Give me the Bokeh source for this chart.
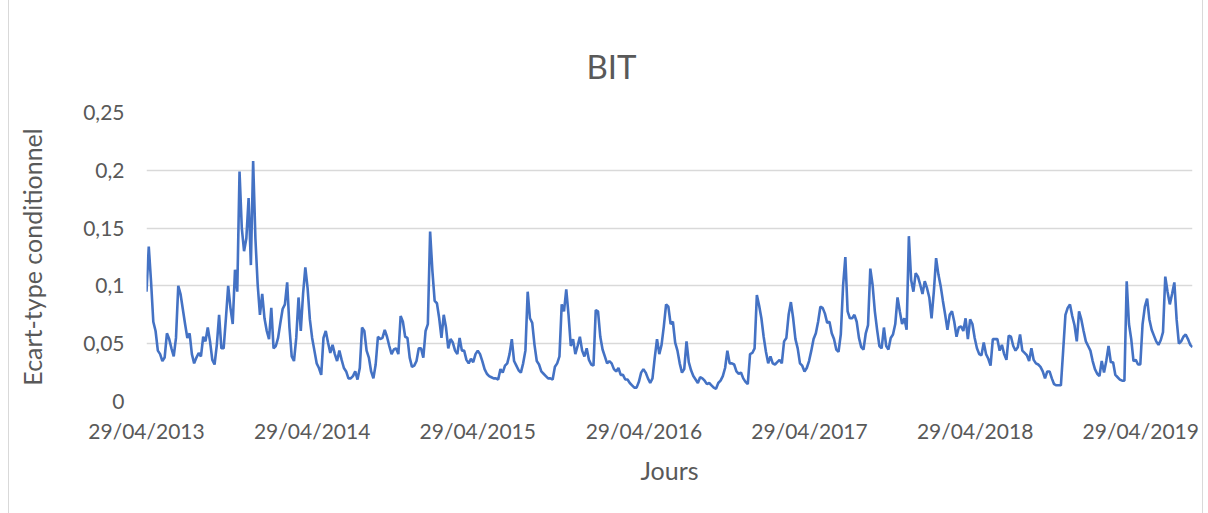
import pandas as pd
from bokeh.plotting import figure
from bokeh.models import Range1d, FixedTicker, CustomJSTickFormatter, DatetimeTickFormatter
from bokeh.embed import file_html
from bokeh.resources import INLINE

# ---- data (conditional std. dev., sampled every 5 days from 29/04/2013) ----
start_date = "2013-04-29"
step = "5D"

vol_part1 = [0.095, 0.134, 0.104, 0.069, 0.061, 0.044, 0.041, 0.035, 0.038, 0.059,
             0.054, 0.046, 0.039, 0.055, 0.100, 0.093, 0.080, 0.067, 0.055, 0.059,
             0.041, 0.033, 0.038, 0.042, 0.039, 0.056, 0.052, 0.064, 0.052, 0.036,
             0.032, 0.049, 0.075, 0.046, 0.046, 0.072, 0.100, 0.081, 0.067, 0.114,
             0.095, 0.199, 0.150, 0.130, 0.141, 0.176, 0.118, 0.208, 0.141, 0.101,
             0.075, 0.093, 0.072, 0.061, 0.054, 0.081, 0.046, 0.048]
vol_part2 = [0.055, 0.068, 0.080, 0.084, 0.103, 0.064, 0.039, 0.035, 0.055, 0.090,
             0.061, 0.093, 0.116, 0.098, 0.071, 0.055, 0.044, 0.033, 0.029, 0.023,
             0.055, 0.061, 0.051, 0.042, 0.049, 0.041, 0.035, 0.044, 0.036, 0.029,
             0.026, 0.020, 0.020, 0.022, 0.026, 0.019, 0.029, 0.064, 0.061, 0.044,
             0.038, 0.026, 0.020, 0.032, 0.056, 0.054, 0.055, 0.062, 0.056, 0.048,
             0.041, 0.045, 0.046, 0.041, 0.074, 0.069, 0.056]
vol_part3 = [0.055, 0.038, 0.030, 0.031, 0.035, 0.046, 0.046, 0.038, 0.061, 0.067,
             0.147, 0.113, 0.087, 0.085, 0.072, 0.055, 0.075, 0.064, 0.046, 0.054,
             0.051, 0.044, 0.041, 0.055, 0.044, 0.044, 0.036, 0.033, 0.037, 0.034,
             0.041, 0.044, 0.041, 0.035, 0.028, 0.024, 0.022, 0.021, 0.020, 0.020,
             0.019, 0.028, 0.025, 0.031, 0.033, 0.041, 0.054, 0.035, 0.031, 0.027,
             0.025, 0.033, 0.044, 0.095, 0.072, 0.068, 0.049, 0.035]
vol_part4 = [0.032, 0.026, 0.024, 0.022, 0.020, 0.020, 0.019, 0.030, 0.033, 0.039,
             0.084, 0.078, 0.097, 0.075, 0.048, 0.054, 0.041, 0.048, 0.056, 0.044,
             0.039, 0.046, 0.036, 0.032, 0.031, 0.079, 0.078, 0.056, 0.045, 0.039,
             0.033, 0.035, 0.033, 0.028, 0.026, 0.029, 0.023, 0.023, 0.019, 0.019,
             0.016, 0.014, 0.012, 0.012, 0.017, 0.025, 0.028, 0.025, 0.020, 0.016,
             0.020, 0.038, 0.054, 0.041, 0.049, 0.065, 0.084, 0.082, 0.067]
vol_part5 = [0.069, 0.051, 0.044, 0.033, 0.025, 0.028, 0.052, 0.034, 0.027, 0.022,
             0.019, 0.016, 0.021, 0.020, 0.018, 0.015, 0.016, 0.014, 0.012, 0.011,
             0.016, 0.018, 0.022, 0.029, 0.044, 0.033, 0.033, 0.032, 0.026, 0.024,
             0.025, 0.020, 0.017, 0.015, 0.041, 0.042, 0.046, 0.092, 0.083, 0.072,
             0.056, 0.043, 0.033, 0.039, 0.033, 0.032, 0.034, 0.036, 0.033, 0.052,
             0.055, 0.075, 0.086, 0.072, 0.054, 0.046, 0.033]
vol_part6 = [0.031, 0.026, 0.029, 0.035, 0.044, 0.054, 0.059, 0.069, 0.082, 0.081,
             0.076, 0.068, 0.069, 0.059, 0.054, 0.045, 0.043, 0.058, 0.100, 0.125,
             0.078, 0.072, 0.072, 0.075, 0.069, 0.055, 0.047, 0.045, 0.059, 0.066,
             0.115, 0.101, 0.078, 0.062, 0.048, 0.046, 0.064, 0.048, 0.045, 0.055,
             0.058, 0.067, 0.090, 0.078, 0.067, 0.072, 0.062, 0.143, 0.105, 0.095,
             0.111, 0.108, 0.101, 0.093, 0.104, 0.098, 0.090]
vol_part7 = [0.072, 0.095, 0.124, 0.110, 0.100, 0.087, 0.075, 0.062, 0.075, 0.078,
             0.069, 0.056, 0.064, 0.065, 0.061, 0.072, 0.054, 0.071, 0.067, 0.055,
             0.046, 0.041, 0.040, 0.051, 0.041, 0.037, 0.031, 0.054, 0.054, 0.054,
             0.044, 0.049, 0.041, 0.036, 0.057, 0.056, 0.048, 0.044, 0.047, 0.058,
             0.044, 0.042, 0.040, 0.035, 0.046, 0.036, 0.033, 0.032, 0.030, 0.026,
             0.020, 0.026, 0.026, 0.020, 0.015, 0.014, 0.014, 0.014]
vol_part8 = [0.044, 0.075, 0.081, 0.084, 0.074, 0.066, 0.052, 0.078, 0.071, 0.061,
             0.052, 0.048, 0.044, 0.035, 0.028, 0.024, 0.022, 0.035, 0.025, 0.035,
             0.048, 0.034, 0.034, 0.023, 0.021, 0.019, 0.018, 0.018, 0.104, 0.067,
             0.054, 0.035, 0.036, 0.032, 0.032, 0.067, 0.082, 0.089, 0.071, 0.062,
             0.057, 0.052, 0.049, 0.053, 0.060, 0.108, 0.095, 0.084, 0.093, 0.103,
             0.071, 0.050, 0.052, 0.056, 0.058, 0.054, 0.049, 0.047]

tick_dates = ["2013-04-29", "2014-04-29", "2015-04-29", "2016-04-29",
              "2017-04-29", "2018-04-29", "2019-04-29"]
tick_labels = ["29/04/2013", "29/04/2014", "29/04/2015", "29/04/2016",
               "29/04/2017", "29/04/2018", "29/04/2019"]
y_ticks = [0, 0.05, 0.1, 0.15, 0.2, 0.25]

title_text = "BIT"
x_label = "Jours"
y_label = "Ecart-type conditionnel"

# ---- build ----
vol = (vol_part1 + vol_part2 + vol_part3 + vol_part4 +
       vol_part5 + vol_part6 + vol_part7 + vol_part8)
dates = pd.date_range(start_date, periods=len(vol), freq=step)

FONT = "Lato"
TXT = "#595959"

p = figure(width=1195, height=513, x_axis_type="datetime",
           output_backend="svg", toolbar_location=None,
           x_range=Range1d(dates[0], dates[-1]), y_range=Range1d(0, 0.25),
           min_border_left=137, min_border_right=12,
           min_border_top=112, min_border_bottom=112)
p.styles = {"margin-left": "8px",
            "border-left": "1px solid #D9D9D9",
            "border-right": "1px solid #D9D9D9"}

p.line(dates, vol, line_color="#4472C4", line_width=2.6)

# title
p.title.text = title_text
p.title.text_font = FONT
p.title.text_font_size = "33px"
p.title.text_font_style = "normal"
p.title.text_color = TXT
p.title.align = "left"
p.title.offset = 440
p.title.standoff = 54

# x axis
tick_ms = [int(pd.Timestamp(d).value // 10**6) for d in tick_dates]
p.xaxis.ticker = FixedTicker(ticks=tick_ms)
p.xaxis.formatter = DatetimeTickFormatter(days="%d/%m/%Y", months="%d/%m/%Y",
                                          years="%d/%m/%Y")
p.xaxis.major_label_overrides = {ms: lab for ms, lab in zip(tick_ms, tick_labels)}
p.xaxis.axis_label = x_label
p.xaxis.major_label_standoff = 10
p.xaxis.axis_label_standoff = 9

# y axis
p.yaxis.ticker = FixedTicker(ticks=y_ticks)
p.yaxis.formatter = CustomJSTickFormatter(
    code="return String(Math.round(tick*100)/100).replace('.', ',');")
p.yaxis.axis_label = y_label
p.yaxis.major_label_standoff = 16
p.yaxis.axis_label_standoff = 33

for ax in (p.xaxis[0], p.yaxis[0]):
    ax.axis_line_color = None
    ax.major_tick_line_color = None
    ax.minor_tick_line_color = None
    ax.major_label_text_font = FONT
    ax.major_label_text_font_size = "21px"
    ax.major_label_text_color = TXT
    ax.axis_label_text_font = FONT
    ax.axis_label_text_font_size = "25px"
    ax.axis_label_text_font_style = "normal"
    ax.axis_label_text_color = TXT

p.xgrid.grid_line_color = None
p.ygrid.grid_line_color = "#D9D9D9"
p.ygrid.grid_line_width = 1.3
p.outline_line_color = None

open("out.html", "w").write(file_html(p, INLINE))
